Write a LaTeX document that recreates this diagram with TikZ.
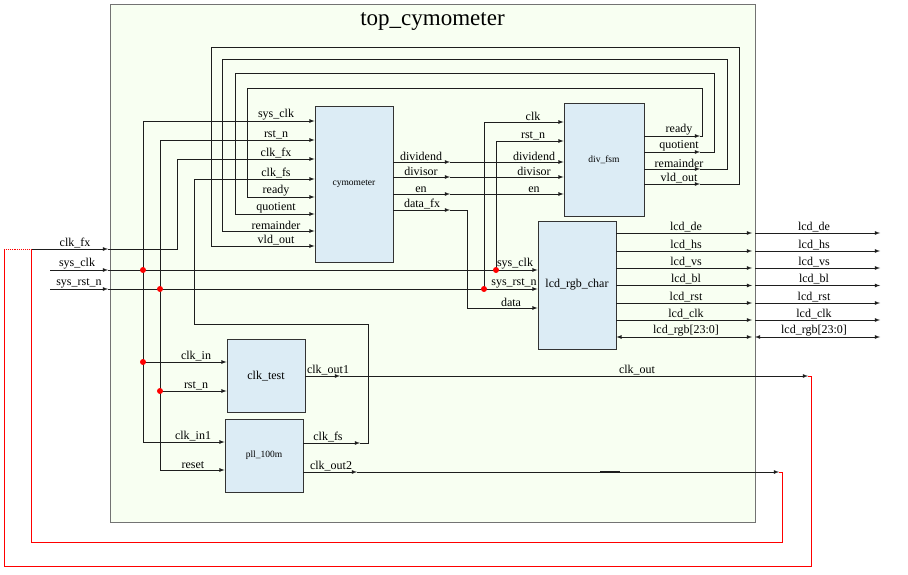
\documentclass[tikz,border=0pt]{standalone}
\usepackage{fontspec}
\setmainfont{Liberation Serif}
\usetikzlibrary{arrows}

\definecolor{blockblue}{RGB}{220,236,245}
\definecolor{topgreen}{RGB}{248,255,242}
\definecolor{wiregray}{RGB}{30,30,30}

\begin{document}
\begin{tikzpicture}[x=1pt,y=-1pt,
  wire/.style={wiregray,line width=0.8pt},
  pin/.style={wire,-latex},
  blk/.style={draw=black!80,fill=blockblue,line width=0.8pt,inner sep=0pt,minimum width=78pt},
  lbl/.style={anchor=south,inner sep=1pt,font=\fontsize{12}{12}\selectfont},
  tap/.style={circle,fill=red,inner sep=0pt,minimum size=6pt},
  fbloop/.style={red,line width=0.9pt}]
  \useasboundingbox (0,0) rectangle (908,575);
  \node[draw=black!55,fill=topgreen,line width=1pt,minimum width=645pt,minimum height=517pt,inner sep=0pt] (top) at (432.5,263.5) {};
  \node[font=\fontsize{23}{23}\selectfont] (title) at (432.5,22) {top\_cymometer};

  \node[blk,minimum height=156pt,font=\fontsize{9.5}{10}\selectfont] (cym) at (354,184) {cymometer};
  \node[blk,minimum width=80pt,minimum height=113pt,font=\fontsize{9.5}{10}\selectfont] (div) at (604,159.5) {div\_fsm};
  \node[blk,minimum height=128pt,font=\fontsize{12}{12}\selectfont] (lcd) at (577,285) {lcd\_rgb\_char};
  \node[blk,minimum height=73pt,font=\fontsize{12}{12}\selectfont] (tst) at (266,376) {clk\_test};
  \node[blk,minimum height=73pt,font=\fontsize{9.5}{10}\selectfont] (pll) at (264,455.5) {pll\_100m};

  \coordinate (p-clkfx) at (31,249);
  \coordinate (p-sysclk) at (50,270);
  \coordinate (p-rst) at (50,289);
  \coordinate (b-clkfx) at (108,249);
  \coordinate (b-sysclk) at (108,270);
  \coordinate (b-rst) at (108,289);
  \foreach \n/\y in {sysclk/121,rstn/140,clkfx/159,clkfs/179}
    \coordinate (cym-\n) at (cym.west |- 0,\y);
  \coordinate (div-clk) at (div.west |- 0,122);
  \coordinate (div-rstn) at (div.west |- 0,141);
  \coordinate (lcd-sysclk) at (lcd.west |- 0,270);
  \coordinate (lcd-rst) at (lcd.west |- 0,289);
  \coordinate (lcd-data) at (lcd.west |- 0,308);
  \coordinate (tst-clkin) at (tst.west |- 0,362);
  \coordinate (tst-rstn) at (tst.west |- 0,391);
  \coordinate (pll-clkin1) at (pll.west |- 0,442);
  \coordinate (pll-reset) at (pll.west |- 0,470);

  \foreach \y/\t in {121/sys\_clk,140/rst\_n,159/clk\_fx,179/clk\_fs,197/ready,214/quotient,231/remainder,246/vld\_out}
    \node[lbl] at (276,\y) {\t};

  \draw[pin] (p-clkfx) -- (b-clkfx);
  \draw[pin] (b-clkfx) -| (177,159) -- (cym-clkfx);
  \draw[pin] (p-sysclk) -- (b-sysclk);
  \draw[pin] (b-sysclk) -- (lcd-sysclk);
  \draw[pin] (p-rst) -- (b-rst);
  \draw[pin] (b-rst) -- (lcd-rst);
  \node[lbl] at (75,249) {clk\_fx};
  \node[lbl] at (77,270) {sys\_clk};
  \node[lbl] at (79,289) {sys\_rst\_n};

  \draw[pin] (143,442) |- (cym-sysclk);
  \draw[pin] (143,442) -- (pll-clkin1);
  \draw[pin] (143,362) -- (tst-clkin);
  \draw[pin] (160,470) |- (cym-rstn);
  \draw[pin] (160,470) -- (pll-reset);
  \draw[pin] (160,391) -- (tst-rstn);
  \draw[pin] (484,289) |- (div-clk);
  \draw[pin] (496,270) |- (div-rstn);
  \node[tap] at (143,270) {};
  \node[tap] at (143,362) {};
  \node[tap] at (160,289) {};
  \node[tap] at (160,391) {};
  \node[tap] at (496,270) {};
  \node[tap] at (484,289) {};
  \node[lbl] at (196,362) {clk\_in};
  \node[lbl] at (196,391) {rst\_n};
  \node[lbl] at (193,442) {clk\_in1};
  \node[lbl] at (193,470) {reset};
  \node[lbl] at (533,122) {clk};
  \node[lbl] at (533,141) {rst\_n};
  \node[lbl] at (515,270) {sys\_clk};
  \node[lbl] at (514,289) {sys\_rst\_n};
  \node[lbl] at (511,308) {data};

  \foreach \y/\t in {162/dividend,177/divisor,194/en}{
    \draw[pin] (cym.east |- 0,\y) -- (450,\y);
    \draw[pin] (450,\y) -- (div.west |- 0,\y);
    \node[lbl] at (421,\y) {\t};
    \node[lbl] at (534,\y) {\t};
  }
  \draw[pin] (cym.east |- 0,210) -- (450,210);
  \draw[pin] (450,210) -| (467,308) -- (lcd-data);
  \node[lbl] at (422,210) {data\_fx};

  \foreach \y/\t/\xr/\yt/\xl/\yc in {136/ready/702/88/247/197,152/quotient/714/73/235/214,169/remainder/727/59/222/231,184/vld\_out/739/47/211/246}{
    \draw[pin] (div.east |- 0,\y) -- (700,\y);
    \draw[pin] (700,\y) -- (\xr,\y) -- (\xr,\yt) -- (\xl,\yt) -- (\xl,\yc) -- (cym.west |- 0,\yc);
    \node[lbl] at (679,\y) {\t};
  }

  \draw[pin] (pll.east |- 0,443) -- (360,443);
  \draw[pin] (360,443) -- (368,443) -- (368,324) -- (194,324) |- (cym-clkfs);
  \node[lbl] at (328,443) {clk\_fs};

  \foreach \y/\t in {233/lcd\_de,251/lcd\_hs,268/lcd\_vs,285.5/lcd\_bl,303/lcd\_rst,320/lcd\_clk}{
    \draw[pin] (lcd.east |- 0,\y) -- (752,\y);
    \draw[pin] (755,\y) -- (880,\y);
    \node[lbl] at (686,\y) {\t};
    \node[lbl] at (814,\y) {\t};
  }
  \draw[wire,latex-latex] (lcd.east |- 0,337) -- (752,337);
  \draw[wire,latex-latex] (755,337) -- (880,337);
  \node[lbl] at (686,337) {lcd\_rgb[23:0]};
  \node[lbl] at (814,337) {lcd\_rgb[23:0]};

  \draw[pin] (tst.east |- 0,376) -- (340,376);
  \draw[pin] (340,376) -- (808,376);
  \node[lbl] at (328,376) {clk\_out1};
  \node[lbl] at (637,376) {clk\_out};
  \draw[pin] (pll.east |- 0,472) -- (357,472);
  \draw[pin] (357,472) -- (779,472);
  \draw[wiregray,line width=1.6pt] (600,472) -- (620,472);
  \node[lbl] at (331,472) {clk\_out2};

  \draw[fbloop] (808,376) -- (811,376) -- (811,566) -- (4,566) -- (4,249);
  \draw[fbloop,densely dotted] (4,249) -- (p-clkfx);
  \draw[fbloop] (779,472) -- (782,472) -- (782,542) -- (31,542) -- (p-clkfx);
\end{tikzpicture}
\end{document}
